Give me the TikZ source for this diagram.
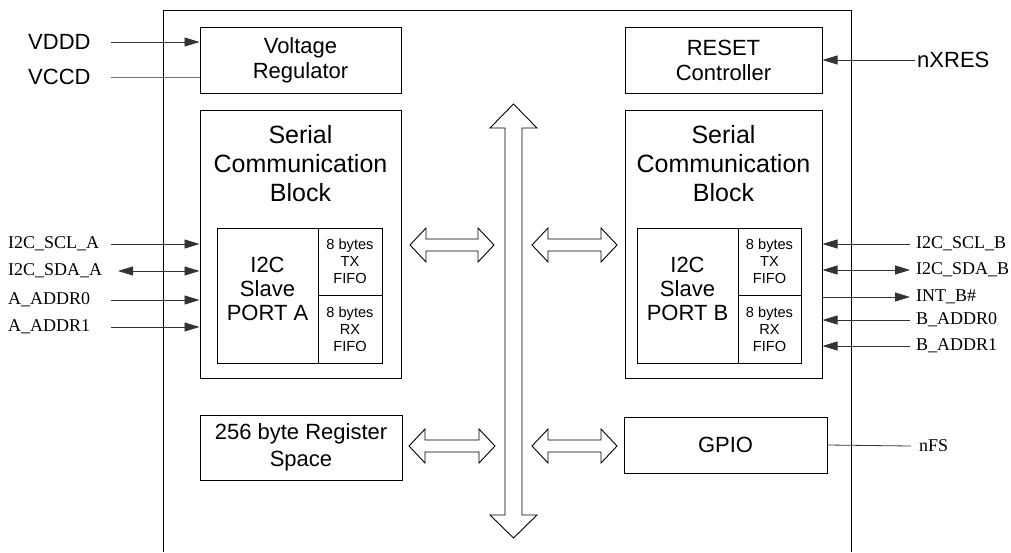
\documentclass[tikz,border=0pt]{standalone}
\usepackage{fontspec}
\setmainfont{Liberation Sans}
\newfontfamily\sigfont{Liberation Serif}
\usetikzlibrary{arrows.meta}
\newcommand\fatdbl[3]{%
  \draw[fat] (#1,#3) -- (#1+16,#3-17) -- (#1+16,#3-6) -- (#2-16,#3-6) -- (#2-16,#3-17) -- (#2,#3)
    -- (#2-16,#3+17) -- (#2-16,#3+6) -- (#1+16,#3+6) -- (#1+16,#3+17) -- cycle;}
\begin{document}
\begin{tikzpicture}[x=1pt,y=-1pt,
  box/.style={draw,line width=1pt,inner sep=0pt,align=center,font=\fontsize{22}{25}\selectfont},
  small/.style={box,font=\fontsize{14.6}{17}\selectfont},
  title/.style={align=center,inner sep=0pt,font=\fontsize{25}{29}\selectfont},
  inner/.style={align=center,inner sep=0pt,font=\fontsize{22}{24}\selectfont},
  sig/.style={line width=0.8pt,draw=black!80},
  tip/.style={-{Triangle[length=15pt,width=9pt]}},
  dtip/.style={{Triangle[length=15pt,width=9pt]}-{Triangle[length=15pt,width=9pt]}},
  lbl/.style={anchor=west,inner sep=0pt,font=\sigfont\fontsize{18}{20}\selectfont},
  slbl/.style={anchor=west,inner sep=0pt,font=\fontsize{22}{25}\selectfont},
  fat/.style={draw,line width=0.9pt,fill=white,line join=miter}]
\useasboundingbox (0,0) rectangle (1011,552);
% outer frame
\draw[line width=1pt] (163,552) -- (163,10) -- (851,10) -- (851,552);
% top blocks
\node[box,minimum width=201pt,minimum height=66pt] (vr) at (300.5,60) {Voltage\\Regulator};
\node[box,minimum width=197pt,minimum height=66pt] (rst) at (723.5,60) {RESET\\Controller};
% serial communication blocks
\node[box,minimum width=201pt,minimum height=268pt] (scbA) at (300.5,244) {};
\node[title] (scbAt) at (300.5,164) {Serial\\Communication\\Block};
\node[box,minimum width=101pt,minimum height=135pt] (i2cA) at (267.5,295.5) {};
\node[inner] (i2cAt) at (267.5,289) {I2C\\Slave\\PORT A};
\node[small,minimum width=64pt,minimum height=67pt] (txA) at (350,261.5) {8 bytes\\TX\\FIFO};
\node[small,minimum width=64pt,minimum height=68pt] (rxA) at (350,329) {8 bytes\\RX\\FIFO};
\node[box,minimum width=197pt,minimum height=268pt] (scbB) at (723.5,244) {};
\node[title] (scbBt) at (723.5,164) {Serial\\Communication\\Block};
\node[box,minimum width=101pt,minimum height=135pt] (i2cB) at (687.5,295.5) {};
\node[inner] (i2cBt) at (687.5,289) {I2C\\Slave\\PORT B};
\node[small,minimum width=63pt,minimum height=67pt] (txB) at (769.5,261.5) {8 bytes\\TX\\FIFO};
\node[small,minimum width=63pt,minimum height=68pt] (rxB) at (769.5,329) {8 bytes\\RX\\FIFO};
% bottom blocks
\node[box,font=\fontsize{22}{27}\selectfont,minimum width=202pt,minimum height=65pt] (reg) at (301,447.5) {256 byte Register\\Space};
\node[box,minimum width=203pt,minimum height=56pt] (gpio) at (725.5,445) {GPIO};
% central bus
\draw[fat] (513.5,104) -- (537,128) -- (522,128) -- (522,515) -- (537,515) -- (513.5,538)
  -- (490,515) -- (505,515) -- (505,128) -- (490,128) -- cycle;
\fatdbl{410}{494}{245}
\fatdbl{532}{617}{245}
\fatdbl{409}{495}{446}
\fatdbl{532}{617}{446}
% power / reset
\node[slbl] (lvddd) at (28,42) {VDDD};
\node[slbl] (lvccd) at (28,77) {VCCD};
\coordinate (cvddd) at (111,42);
\coordinate (cvccd) at (111,77);
\draw[sig,tip] (cvddd) -- (cvddd -| vr.west);
\draw[line width=0.8pt,draw=black!55] (cvccd) -- (cvccd -| vr.west);
\node[slbl] (lnx) at (917,60) {nXRES};
\coordinate (cnx) at (915,60);
\draw[sig,tip] (cnx) -- (cnx -| rst.east);
% port A signals
\node[lbl] (lsclA) at (8,244) {I2C\_SCL\_A};
\node[lbl] (lsdaA) at (8,271) {I2C\_SDA\_A};
\node[lbl] (la0) at (8,300) {A\_ADDR0};
\node[lbl] (la1) at (8,327) {A\_ADDR1};
\coordinate (csclA) at (111,244);
\coordinate (csdaA) at (118,271);
\coordinate (ca0) at (111,300);
\coordinate (ca1) at (111,327);
\draw[sig,tip] (csclA) -- (csclA -| scbA.west);
\draw[sig,dtip] (csdaA) -- (csdaA -| scbA.west);
\draw[sig,tip] (ca0) -- (ca0 -| scbA.west);
\draw[sig,tip] (ca1) -- (ca1 -| scbA.west);
% port B signals
\node[lbl] (lsclB) at (916,244) {I2C\_SCL\_B};
\node[lbl] (lsdaB) at (916,270) {I2C\_SDA\_B};
\node[lbl] (lint) at (916,297) {INT\_B\#};
\node[lbl] (lb0) at (916,320) {B\_ADDR0};
\node[lbl] (lb1) at (916,346) {B\_ADDR1};
\coordinate (csclB) at (910,244);
\coordinate (csdaB) at (910,270);
\coordinate (cint) at (910,297);
\coordinate (cb0) at (910,320);
\coordinate (cb1) at (910,346);
\draw[sig,tip] (csclB) -- (csclB -| scbB.east);
\draw[sig,dtip] (csdaB -| scbB.east) -- (csdaB);
\draw[sig,tip] (cint -| scbB.east) -- (cint);
\draw[sig,tip] (cb0) -- (cb0 -| scbB.east);
\draw[sig,tip] (cb1) -- (cb1 -| scbB.east);
% GPIO
\node[lbl] (lnfs) at (919,446) {nFS};
\coordinate (cnfs) at (911,446);
\draw[sig] (gpio.east) -- (cnfs);
\end{tikzpicture}
\end{document}
